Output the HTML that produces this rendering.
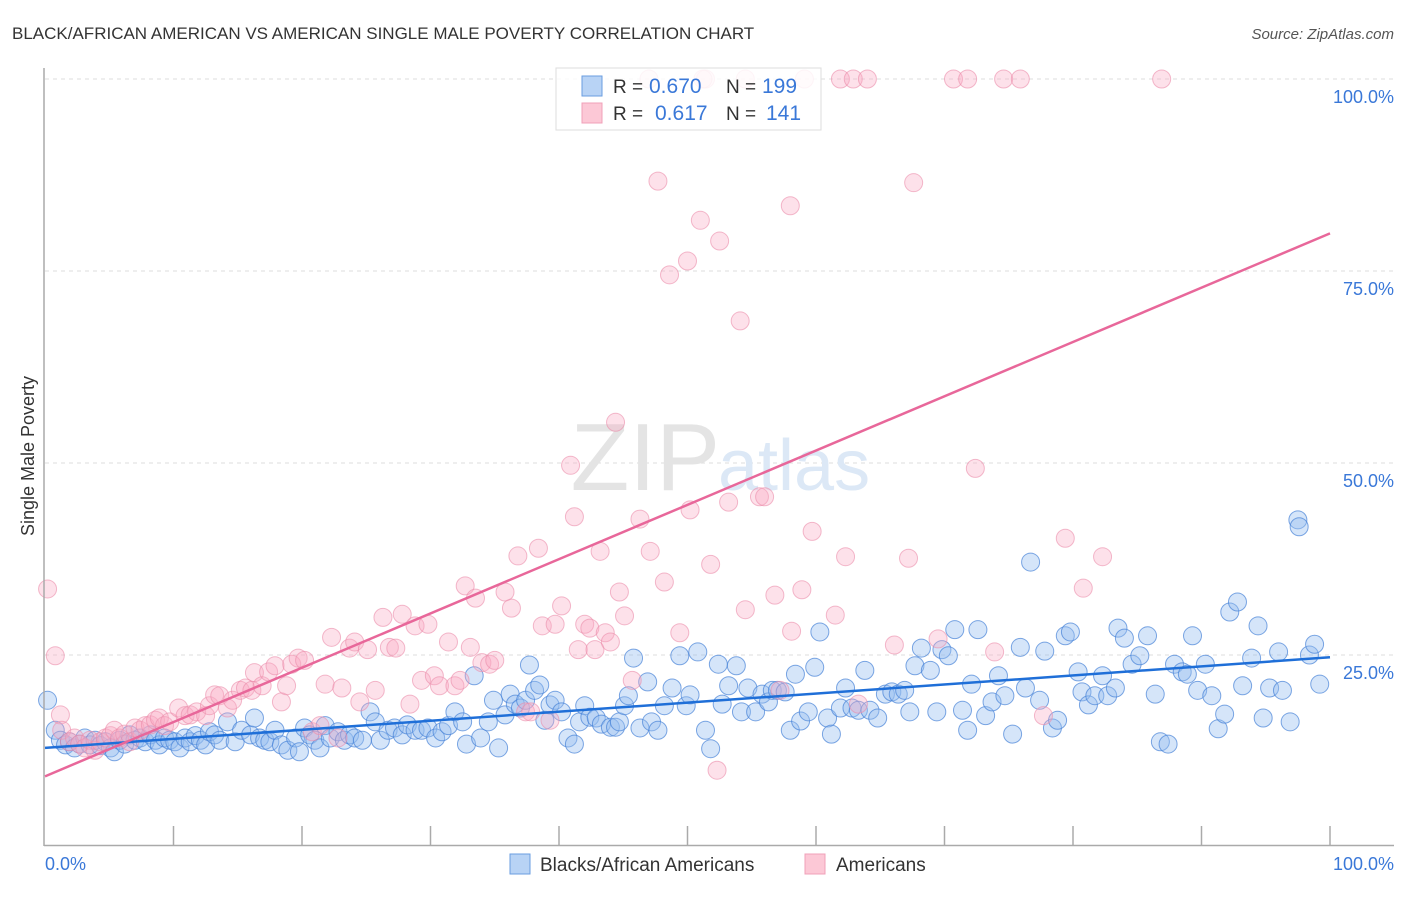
<!DOCTYPE html>
<html><head><meta charset="utf-8">
<style>
body{margin:0;background:#fff;font-family:"Liberation Sans",sans-serif;}
svg text{font-family:"Liberation Sans",sans-serif;}
</style></head>
<body>
<svg id="chart" width="1406" height="892" viewBox="0 0 1406 892" xmlns="http://www.w3.org/2000/svg">
<text x="12" y="39" font-size="17" fill="#333">BLACK/AFRICAN AMERICAN VS AMERICAN SINGLE MALE POVERTY CORRELATION CHART</text>
<text x="1394" y="39" font-size="15" fill="#555" font-style="italic" text-anchor="end">Source: ZipAtlas.com</text>
<g id="grid"></g>
<text x="720" y="490" font-size="96" fill="#e4e4e4" text-anchor="end" font-family="Liberation Serif">ZIP</text>
<text x="718" y="490" font-size="72" fill="#dce8f6">atlas</text>
<g id="pts"></g>
<g id="lines"></g>
<g id="axes"></g>
<text transform="translate(34,456) rotate(-90)" font-size="18" fill="#333" text-anchor="middle">Single Male Poverty</text>
<text x="45" y="870" font-size="18" fill="#3a78d8">0.0%</text>
<text x="1394" y="870" font-size="18" fill="#3a78d8" text-anchor="end">100.0%</text>
<g>
<rect x="556" y="68" width="265" height="62" fill="rgba(255,255,255,0.85)" stroke="#ddd"/>
<rect x="582" y="76" width="20" height="20" fill="#b8d3f5" stroke="#6a9ee0"/>
<rect x="582" y="103" width="20" height="20" fill="#fcc8d6" stroke="#f0a0b8"/>
<text x="613" y="93" font-size="19" fill="#333">R =</text>
<text x="649" y="93" font-size="21" fill="#3a78d8">0.670</text>
<text x="726" y="93" font-size="19" fill="#333">N =</text>
<text x="762" y="93" font-size="21" fill="#3a78d8">199</text>
<text x="613" y="120" font-size="19" fill="#333">R =</text>
<text x="655" y="120" font-size="21" fill="#3a78d8">0.617</text>
<text x="726" y="120" font-size="19" fill="#333">N =</text>
<text x="766" y="120" font-size="21" fill="#3a78d8">141</text>
</g>
<g>
<rect x="510" y="854" width="20" height="20" fill="#b8d3f5" stroke="#6a9ee0"/>
<text x="540" y="871" font-size="19" fill="#333">Blacks/African Americans</text>
<rect x="805" y="854" width="20" height="20" fill="#fcc8d6" stroke="#f0a0b8"/>
<text x="836" y="871" font-size="19" fill="#333">Americans</text>
</g>
</svg>
<script>
const yTicks=[25,50,75,100];
const yTickLabels=["25.0%","50.0%","75.0%","100.0%"];
const xTicks=[10,20,30,40,50,60,70,80,90,100];
const blueX=[0.2,0.8,1.2,1.6,1.9,2.3,2.7,3.1,3.5,3.9,4.3,4.7,5.1,5.4,5.8,6.2,6.6,7.0,7.4,7.8,8.2,8.6,8.9,9.3,9.7,10.1,10.5,10.9,11.3,11.7,12.1,12.5,12.8,13.2,13.6,14.2,14.8,15.3,16.0,16.3,16.7,17.1,17.5,17.9,18.4,18.9,19.5,19.8,20.2,20.6,21.0,21.4,21.8,22.2,22.8,23.3,23.7,24.1,24.7,25.3,25.7,26.1,26.7,27.2,27.8,28.2,28.8,29.3,29.8,30.4,30.9,31.4,31.9,32.5,32.8,33.4,33.9,34.5,34.9,35.3,35.8,36.2,36.6,37.0,37.4,37.7,38.1,38.5,38.9,39.3,39.7,40.2,40.7,41.2,41.6,42.0,42.4,42.9,43.3,44.0,44.4,44.7,45.1,45.4,45.8,46.3,46.9,47.2,47.7,48.2,48.8,49.4,49.9,50.2,50.8,51.4,51.8,52.4,52.7,53.2,53.8,54.2,54.7,55.3,55.8,56.3,56.6,57.0,57.6,58.0,58.4,58.8,59.4,59.9,60.3,60.9,61.2,61.9,62.3,62.8,63.3,63.8,64.2,64.8,65.4,65.9,66.4,66.9,67.3,67.7,68.2,68.9,69.4,69.8,70.3,70.8,71.4,71.8,72.1,72.6,73.2,73.7,74.2,74.7,75.3,75.9,76.3,76.7,77.4,77.8,78.4,78.8,79.4,79.8,80.4,80.7,81.2,81.7,82.3,82.7,83.3,83.5,84.0,84.6,85.2,85.8,86.4,86.8,87.4,87.9,88.5,88.9,89.3,89.7,90.3,90.8,91.3,91.8,92.2,92.8,93.2,93.9,94.4,94.8,95.3,96.0,96.3,96.9,97.5,97.6,98.4,98.8,99.2];
const blueY=[19.1,15.2,13.9,13.3,13.7,12.9,13.4,14.2,13.3,13.9,13.2,13.7,12.9,12.4,13.9,13.4,14.6,13.9,14.2,13.7,14.6,13.9,13.3,14.2,13.9,13.7,12.9,14.2,13.7,14.5,13.9,13.3,15.0,14.6,13.9,16.3,13.7,15.2,14.6,16.8,14.2,13.9,13.7,15.2,13.3,12.6,14.2,12.4,15.5,14.6,13.9,12.9,15.8,14.2,15.0,13.9,14.6,14.2,13.9,17.6,16.3,13.9,15.2,15.5,14.6,15.9,15.2,15.2,15.5,14.2,15.0,15.8,17.6,16.3,13.4,22.3,14.2,16.3,19.1,12.9,17.2,19.9,18.6,18.1,19.1,23.7,20.4,21.1,16.5,18.5,19.1,17.6,14.2,13.4,16.3,18.4,16.9,16.8,16.0,15.6,15.6,16.3,18.4,19.7,24.6,15.5,21.5,16.3,15.2,18.4,20.7,24.9,18.4,19.8,25.4,15.2,12.8,23.8,18.6,21.0,23.6,17.6,20.7,17.6,19.9,18.9,20.4,20.4,20.2,15.2,22.5,16.4,17.6,23.4,28.0,16.8,14.7,18.1,20.7,18.1,17.8,23.0,17.8,16.8,19.9,20.2,19.9,20.4,17.6,23.6,25.9,23.0,17.6,25.7,24.9,28.3,17.8,15.2,21.2,28.3,17.1,18.9,22.3,19.7,14.7,26.0,20.7,37.1,19.1,25.5,15.5,16.5,27.5,28.0,22.8,20.2,18.5,19.7,22.3,19.7,20.7,28.5,27.2,23.8,24.9,27.5,19.9,13.7,13.4,23.8,22.8,22.5,27.5,20.4,23.8,19.7,15.4,17.3,30.6,31.9,21.0,24.6,28.8,16.8,20.7,25.4,20.4,16.3,42.6,41.7,25.0,26.4,21.2];
const pinkX=[0.2,0.8,1.2,1.3,1.9,2.3,2.7,3.1,3.5,3.9,4.3,4.7,5.1,5.4,5.8,6.2,6.6,7.0,7.4,7.8,8.2,8.6,8.9,9.3,9.7,10.4,10.9,11.3,11.8,12.5,12.8,13.2,13.6,14.2,14.6,15.2,15.6,16.1,16.3,16.9,17.4,17.9,18.4,18.8,19.2,19.7,20.2,20.8,21.4,21.8,22.3,22.8,23.1,23.7,24.1,24.5,25.1,25.7,26.3,26.8,27.3,27.8,28.4,28.8,29.3,29.8,30.3,30.7,31.4,31.9,32.3,32.7,33.1,33.5,34.0,34.6,35.0,35.8,36.3,36.8,37.4,37.8,38.4,38.7,39.3,39.7,40.2,40.9,41.2,41.5,42.0,42.4,42.8,43.2,43.6,44.0,44.4,44.7,45.1,45.7,46.3,47.1,47.7,48.2,48.6,49.4,50.0,50.2,51.0,51.8,52.3,52.5,53.2,54.1,54.5,55.6,56.0,56.8,57.2,58.0,58.1,58.9,59.7,61.5,62.3,63.3,66.1,67.2,67.6,69.5,72.4,73.9,77.7,79.4,80.8,82.3,51.4,61.9,62.9,64.0,70.7,71.8,74.6,75.9,86.9,47.0,51.2,54.5,59.1];
const pinkY=[33.6,24.9,17.2,15.2,13.7,14.2,13.4,12.9,13.9,12.6,13.7,14.2,14.5,15.2,14.2,14.7,13.7,15.5,15.2,15.8,15.9,16.5,16.8,15.8,16.3,18.1,17.1,17.2,17.6,17.1,18.4,19.8,19.7,18.1,19.1,20.4,20.7,20.4,22.7,21.0,22.8,23.6,18.9,21.0,23.8,24.6,24.3,15.0,15.8,21.2,27.3,14.2,20.7,25.9,26.7,18.9,25.7,20.4,29.9,26.0,25.9,30.3,18.6,28.8,21.7,29.0,22.3,21.0,26.7,21.0,21.7,34.0,26.0,32.4,24.0,23.8,24.3,33.2,31.1,37.9,17.6,17.6,38.9,28.8,16.5,29.0,31.4,49.7,43.0,25.7,29.0,28.5,25.7,38.5,27.9,26.7,55.3,33.2,30.1,21.7,42.7,38.5,86.7,34.5,74.5,27.9,76.3,43.9,81.6,36.8,10.0,78.9,44.9,68.5,30.9,45.6,45.6,32.8,20.4,83.5,28.1,33.5,41.1,30.2,37.8,18.6,26.3,37.6,86.5,27.1,49.3,25.4,17.1,40.2,33.7,37.8,100,100,100,100,100,100,100,100,100,100,100,100,100];
const blueTrend=[12.9,24.7];
const pinkTrend=[9.2,79.9];

const NS="http://www.w3.org/2000/svg";
const X0=45,X1=1330,YB=847,YT=79;
function sx(v){return X0+(X1-X0)*v/100;}
function sy(v){return YB-(YB-YT)*v/100;}
function mk(tag,attrs,parent){const e=document.createElementNS(NS,tag);for(const k in attrs)e.setAttribute(k,attrs[k]);parent.appendChild(e);return e;}

const grid=document.getElementById('grid');
yTicks.forEach((t,i)=>{
  const l=mk('line',{x1:45,x2:1394,y1:sy(t),y2:sy(t),stroke:'#ddd','stroke-dasharray':'4,4'},grid);
  
  
  const tx=mk('text',{x:1394,y:sy(t)+24,'font-size':18,fill:'#3a78d8','text-anchor':'end'},grid);
  tx.textContent=yTickLabels[i];
  
  
});
const axes=document.getElementById('axes');
const ya=mk('line',{x1:44,x2:44,y1:68,y2:846,stroke:'#aaa','stroke-width':1.5},axes);


const xa=mk('line',{x1:44,x2:1394,y1:845.5,y2:845.5,stroke:'#aaa','stroke-width':1.5},axes);


xTicks.forEach(t=>{
  const l=mk('line',{x1:sx(t),x2:sx(t),y1:826,y2:846,stroke:'#aaa','stroke-width':1.5},axes);
  
  
});
const pts=document.getElementById('pts');
blueX.forEach((x,i)=>{
  const c=mk('circle',{cx:sx(x),cy:sy(blueY[i]),r:9,fill:'rgba(150,190,240,0.4)',stroke:'rgba(70,130,215,0.7)','stroke-width':1},pts);
  
  
});
pinkX.forEach((x,i)=>{
  const c=mk('circle',{cx:sx(x),cy:sy(pinkY[i]),r:9,fill:'rgba(248,170,195,0.35)',stroke:'rgba(235,140,170,0.6)','stroke-width':1},pts);
  
  
});
const lines=document.getElementById('lines');
const bl=mk('line',{x1:sx(0),y1:sy(blueTrend[0]),x2:sx(100),y2:sy(blueTrend[1]),stroke:'#1f6fd8','stroke-width':2.5},lines);


const pl=mk('line',{x1:sx(0),y1:sy(pinkTrend[0]),x2:sx(100),y2:sy(pinkTrend[1]),stroke:'#e8679a','stroke-width':2.5},lines);


</script>
</body></html>
